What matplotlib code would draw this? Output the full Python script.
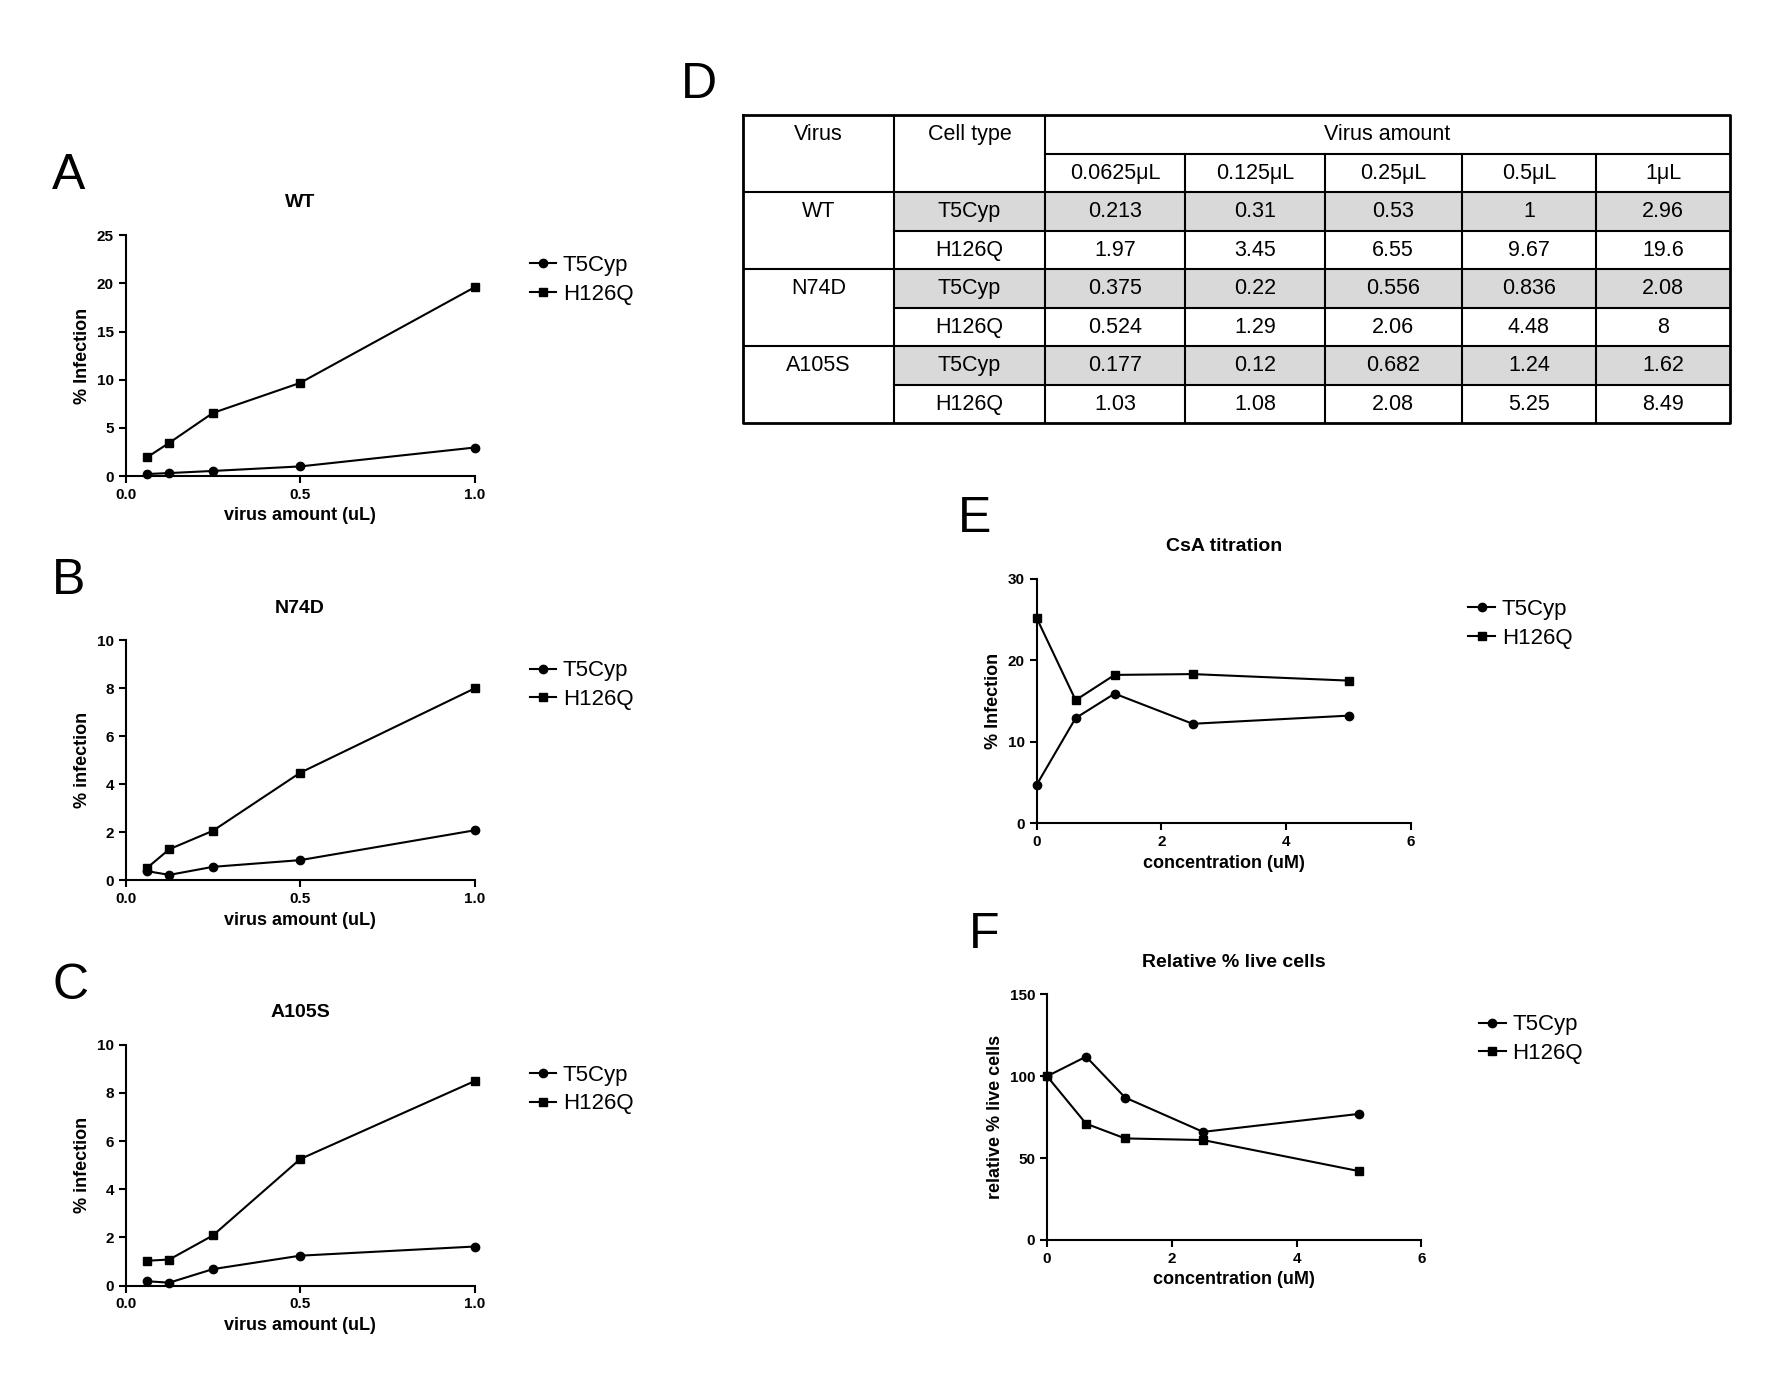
import matplotlib.pyplot as plt
from matplotlib.patches import Rectangle

plt.rcParams['font.family'] = ['Arial', 'Liberation Sans', 'DejaVu Sans']

virus_amount = [0.0625, 0.125, 0.25, 0.5, 1.0]
wt_t5 = [0.213, 0.31, 0.53, 1, 2.96]
wt_h = [1.97, 3.45, 6.55, 9.67, 19.6]
n74d_t5 = [0.375, 0.22, 0.556, 0.836, 2.08]
n74d_h = [0.524, 1.29, 2.06, 4.48, 8]
a105s_t5 = [0.177, 0.12, 0.682, 1.24, 1.62]
a105s_h = [1.03, 1.08, 2.08, 5.25, 8.49]

conc = [0, 0.625, 1.25, 2.5, 5]
csa_t5 = [4.7, 12.9, 15.9, 12.2, 13.2]
csa_h = [25.2, 15.1, 18.2, 18.3, 17.5]
live_t5 = [100, 112, 87, 66, 77]
live_h = [100, 71, 62, 61, 42]

amount_labels = ['0.0625μL', '0.125μL', '0.25μL', '0.5μL', '1μL']
viruses = ['WT', 'N74D', 'A105S']
cells = ['T5Cyp', 'H126Q']
table_vals = [
    ['0.213', '0.31', '0.53', '1', '2.96'],
    ['1.97', '3.45', '6.55', '9.67', '19.6'],
    ['0.375', '0.22', '0.556', '0.836', '2.08'],
    ['0.524', '1.29', '2.06', '4.48', '8'],
    ['0.177', '0.12', '0.682', '1.24', '1.62'],
    ['1.03', '1.08', '2.08', '5.25', '8.49'],
]

fig = plt.figure(figsize=(17.72, 13.94), dpi=100)


def panel(rect, x, y1, y2, title, ylabel, xlabel, xlim, xticks, ylim, yticks, letter, xfmt=None):
    ax = fig.add_axes(rect)
    ax.plot(x, y1, 'k-o', ms=6, lw=1.5, label='T5Cyp', clip_on=False)
    ax.plot(x, y2, 'k-s', ms=6, lw=1.5, label='H126Q', clip_on=False)
    ax.set_xlim(xlim)
    ax.set_ylim(ylim)
    ax.set_xticks(xticks)
    if xfmt:
        ax.set_xticklabels([xfmt % t for t in xticks])
    ax.set_yticks(yticks)
    for s in ['top', 'right']:
        ax.spines[s].set_visible(False)
    for s in ['left', 'bottom']:
        ax.spines[s].set_linewidth(1.5)
    ax.tick_params(width=1.5, length=5, labelsize=11)
    for lab in ax.get_xticklabels() + ax.get_yticklabels():
        lab.set_fontweight('bold')
    ax.set_title(title, fontsize=14, fontweight='bold', pad=20)
    ax.set_xlabel(xlabel, fontsize=13, fontweight='bold')
    ax.set_ylabel(ylabel, fontsize=13, fontweight='bold')
    ax.legend(loc='upper left', bbox_to_anchor=(1.1, 1.0), frameon=False,
              fontsize=16, handlelength=1.2, handletextpad=0.3, labelspacing=0.35)
    ax.text(-0.21, 1.15, letter, transform=ax.transAxes, fontsize=36, va='bottom')
    return ax


xt = [0.0, 0.5, 1.0]
panel([0.0709, 0.6585, 0.197, 0.1728], virus_amount, wt_t5, wt_h, 'WT', '% Infection',
      'virus amount (uL)', (0, 1), xt, (0, 25), range(0, 26, 5), 'A', '%.1f')
panel([0.0709, 0.3686, 0.197, 0.172], virus_amount, n74d_t5, n74d_h, 'N74D', '% infection',
      'virus amount (uL)', (0, 1), xt, (0, 10), range(0, 11, 2), 'B', '%.1f')
panel([0.0709, 0.0778, 0.197, 0.1728], virus_amount, a105s_t5, a105s_h, 'A105S', '% infection',
      'virus amount (uL)', (0, 1), xt, (0, 10), range(0, 11, 2), 'C', '%.1f')
panel([0.585, 0.4095, 0.2113, 0.1753], conc, csa_t5, csa_h, 'CsA titration', '% Infection',
      'concentration (uM)', (0, 6), [0, 2, 4, 6], (0, 30), [0, 10, 20, 30], 'E')
panel([0.5909, 0.1106, 0.2113, 0.176], conc, live_t5, live_h, 'Relative % live cells',
      'relative % live cells', 'concentration (uM)', (0, 6), [0, 2, 4, 6], (0, 150),
      [0, 50, 100, 150], 'F')

# table D
tx = fig.add_axes([0.4195, 0.6962, 0.5567, 0.2211])
tx.set_xlim(651, 1515)
tx.set_ylim(371, 101)
tx.axis('off')
cols = [651, 783, 915, 1038, 1160, 1280, 1398, 1515]
rows = [101 + i * (270 / 8) for i in range(9)]
fs = 15.5
for i in range(6):
    if i % 2 == 0:
        tx.add_patch(Rectangle((cols[1], rows[i + 2]), cols[-1] - cols[1], rows[1] - rows[0],
                               color='#d9d9d9', lw=0))
lw = 1.5
tx.plot([651, 1515, 1515, 651, 651], [101, 101, 371, 371, 101], 'k', lw=2, clip_on=False)
for c in cols[1:3]:
    tx.plot([c, c], [101, 371], 'k', lw=lw)
for c in cols[3:-1]:
    tx.plot([c, c], [rows[1], 371], 'k', lw=lw)
tx.plot([cols[2], 1515], [rows[1]] * 2, 'k', lw=lw)
for r in [rows[2], rows[4], rows[6]]:
    tx.plot([651, 1515], [r, r], 'k', lw=lw)
for r in [rows[3], rows[5], rows[7]]:
    tx.plot([cols[1], 1515], [r, r], 'k', lw=lw)


def mid(a, b):
    return (a + b) / 2


tx.text(mid(cols[0], cols[1]), mid(rows[0], rows[1]), 'Virus', ha='center', va='center', fontsize=fs)
tx.text(mid(cols[1], cols[2]), mid(rows[0], rows[1]), 'Cell type', ha='center', va='center', fontsize=fs)
tx.text(mid(cols[2], cols[-1]), mid(rows[0], rows[1]), 'Virus amount', ha='center', va='center', fontsize=fs)
for j, lab in enumerate(amount_labels):
    tx.text(mid(cols[j + 2], cols[j + 3]), mid(rows[1], rows[2]), lab, ha='center', va='center', fontsize=fs)
for k, v in enumerate(viruses):
    tx.text(mid(cols[0], cols[1]), mid(rows[2 + 2 * k], rows[3 + 2 * k]), v,
            ha='center', va='center', fontsize=fs)
for i, row in enumerate(table_vals):
    yc = mid(rows[i + 2], rows[i + 3])
    tx.text(mid(cols[1], cols[2]), yc, cells[i % 2], ha='center', va='center', fontsize=fs)
    for j, val in enumerate(row):
        tx.text(mid(cols[j + 2], cols[j + 3]), yc, val, ha='center', va='center', fontsize=fs)
tx.text(596, 95, 'D', fontsize=36, va='bottom')

fig.savefig('out.png', dpi=100)
